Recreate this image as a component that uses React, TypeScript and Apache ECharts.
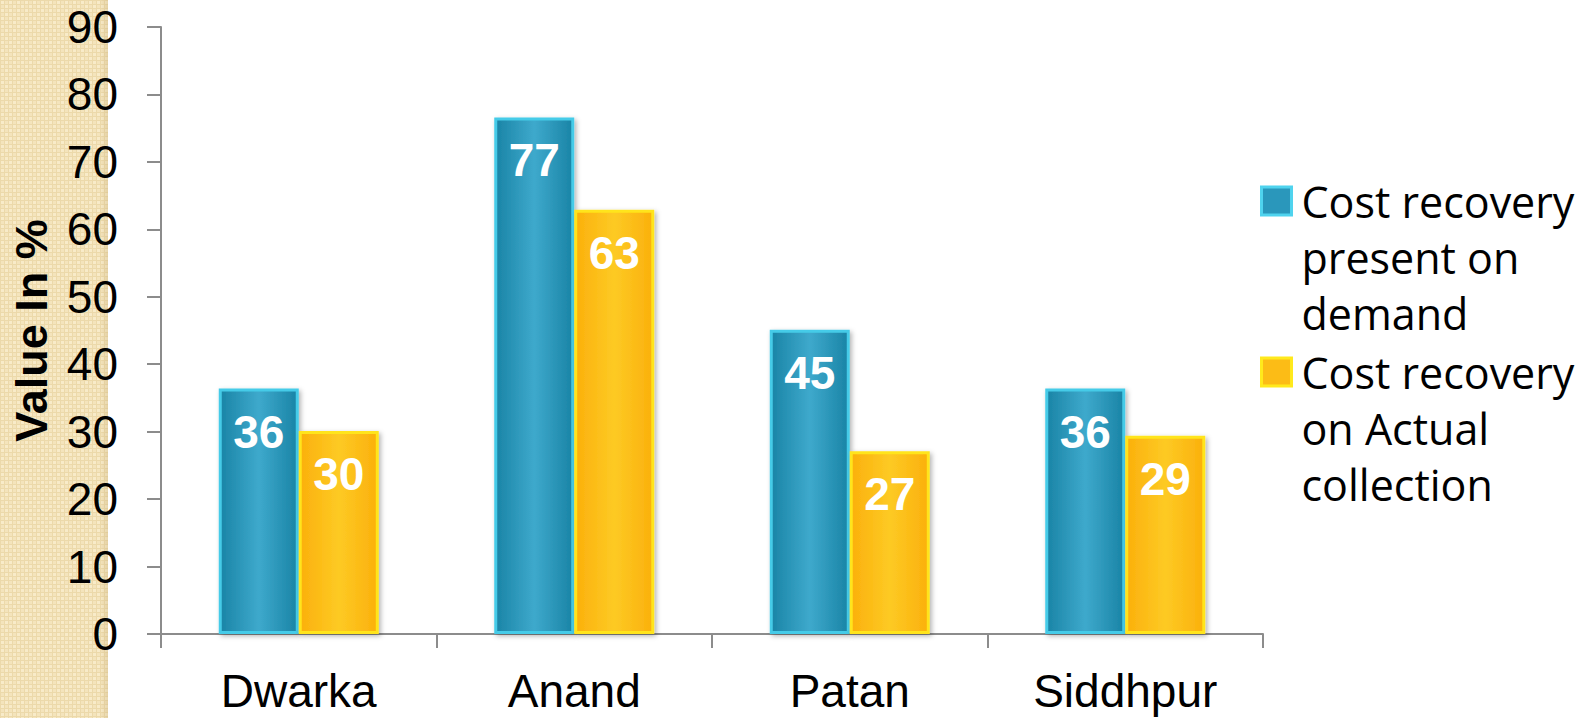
import React, { useEffect, useRef } from "react";
import * as echarts from "echarts";

const categories = ["Dwarka", "Anand", "Patan", "Siddhpur"];
const seriesNames = [
  "Cost recovery present on demand",
  "Cost recovery on Actual collection",
];
const legendLines: Record<string, string[]> = {
  "Cost recovery present on demand": ["Cost recovery", "present on", "demand"],
  "Cost recovery on Actual collection": ["Cost recovery", "on Actual", "collection"],
};
const demandValues = [36.4, 76.6, 45.1, 36.4];
const actualValues = [30.1, 62.9, 27.1, 29.4];
const yTicks = { min: 0, max: 90, interval: 10 };
const yAxisTitle = "Value In %";

function makePattern(): any {
  const c = document.createElement("canvas");
  c.width = 8;
  c.height = 8;
  const ctx = c.getContext("2d");
  if (!ctx) return "#f3e2b8";
  ctx.fillStyle = "#f4e4bc";
  ctx.fillRect(0, 0, 8, 8);
  ctx.fillStyle = "#ecd9aa";
  ctx.fillRect(0, 0, 8, 1);
  ctx.fillRect(0, 0, 1, 8);
  ctx.fillRect(4, 0, 1, 8);
  ctx.fillRect(0, 4, 8, 1);
  ctx.fillStyle = "#f8ebc9";
  ctx.fillRect(1, 1, 3, 3);
  ctx.fillRect(5, 5, 3, 3);
  return { image: c.toDataURL(), repeat: "repeat", imageWidth: 8, imageHeight: 8 };
}

export default function App() {
  const ref = useRef<HTMLDivElement>(null);

  useEffect(() => {
    if (!ref.current) return;
    const chart = echarts.init(ref.current, null, { renderer: "svg" });

    const blueFill = new echarts.graphic.LinearGradient(0, 0, 1, 0, [
      { offset: 0, color: "#1a84a6" },
      { offset: 0.5, color: "#3ea9cc" },
      { offset: 1, color: "#1a84a6" },
    ]);
    const orangeFill = new echarts.graphic.LinearGradient(0, 0, 1, 0, [
      { offset: 0, color: "#fbb00c" },
      { offset: 0.5, color: "#fdca24" },
      { offset: 1, color: "#fbb00c" },
    ]);

    const labelCommon = {
      show: true,
      position: "insideTop",
      distance: 20,
      color: "#ffffff",
      fontFamily: "Liberation Sans, Arial, sans-serif",
      fontWeight: "bold",
      fontSize: 46,
      formatter: (p: any) => String(Math.round(p.value)),
    };

    const option: any = {
      animation: false,
      backgroundColor: "#ffffff",
      graphic: [
        {
          type: "rect",
          z: -10,
          silent: true,
          shape: { x: 0, y: 0, width: 108, height: 718 },
          style: { fill: makePattern() },
        },
        {
          type: "rect",
          z: -9,
          silent: true,
          shape: { x: 100, y: 0, width: 8, height: 718 },
          style: {
            fill: new echarts.graphic.LinearGradient(0, 0, 1, 0, [
              { offset: 0, color: "rgba(200,175,120,0)" },
              { offset: 1, color: "rgba(200,175,120,0.35)" },
            ]),
          },
        },
      ],
      grid: { left: 161, right: 327, top: 27, bottom: 84, containLabel: false },
      legend: {
        orient: "vertical",
        left: 1260,
        top: 61,
        padding: 0,
        itemGap: -109,
        itemWidth: 30,
        itemHeight: 28,
        icon: "rect",
        selectedMode: false,
        data: [
          {
            name: seriesNames[0],
            itemStyle: { color: "#2a97bb", borderColor: "#4fd3ee", borderWidth: 3 },
          },
          {
            name: seriesNames[1],
            itemStyle: { color: "#fcbc16", borderColor: "#ffe91c", borderWidth: 3 },
          },
        ],
        formatter: (name: string) => ["", ""].concat(legendLines[name] || [name]).join("\n"),
        textStyle: {
          fontFamily: "'Open Sans', Lato, sans-serif",
          fontSize: 43,
          lineHeight: 56,
          color: "#000000",
          padding: [0, 0, 0, 5],
        },
      },
      xAxis: {
        type: "category",
        data: categories,
        axisLine: { show: true, lineStyle: { color: "#8c8c8c", width: 2 } },
        axisTick: { show: true, length: 14, lineStyle: { color: "#8c8c8c", width: 2 } },
        axisLabel: {
          margin: 37,
          lineHeight: 40,
          color: "#000000",
          fontFamily: "Liberation Sans, Arial, sans-serif",
          fontSize: 46,
        },
      },
      yAxis: {
        type: "value",
        min: yTicks.min,
        max: yTicks.max,
        interval: yTicks.interval,
        name: yAxisTitle,
        nameLocation: "middle",
        nameGap: 107,
        nameTextStyle: {
          color: "#000000",
          fontFamily: "Liberation Sans, Arial, sans-serif",
          fontWeight: "bold",
          fontSize: 45,
        },
        splitLine: { show: false },
        axisLine: { show: true, lineStyle: { color: "#8c8c8c", width: 2 } },
        axisTick: { show: true, length: 14, lineStyle: { color: "#8c8c8c", width: 2 } },
        axisLabel: {
          margin: 43,
          color: "#000000",
          fontFamily: "Liberation Sans, Arial, sans-serif",
          fontSize: 46,
        },
      },
      series: [
        {
          name: seriesNames[0],
          type: "bar",
          data: demandValues,
          barWidth: 80,
          barGap: "0%",
          itemStyle: {
            color: blueFill,
            borderColor: "#45cbe8",
            borderWidth: 3,
            shadowColor: "rgba(0,0,0,0.3)",
            shadowBlur: 5,
            shadowOffsetX: 2,
            shadowOffsetY: 2,
          },
          label: labelCommon,
        },
        {
          name: seriesNames[1],
          type: "bar",
          data: actualValues,
          barWidth: 80,
          barGap: "0%",
          itemStyle: {
            color: orangeFill,
            borderColor: "#ffe41a",
            borderWidth: 3,
            shadowColor: "rgba(0,0,0,0.3)",
            shadowBlur: 5,
            shadowOffsetX: 2,
            shadowOffsetY: 2,
          },
          label: labelCommon,
        },
      ],
    };

    chart.setOption(option);
    return () => chart.dispose();
  }, []);

  return (
    <div
      ref={ref}
      style={{ position: "fixed", left: 0, top: 0, width: 1590, height: 718, background: "#fff" }}
    />
  );
}
